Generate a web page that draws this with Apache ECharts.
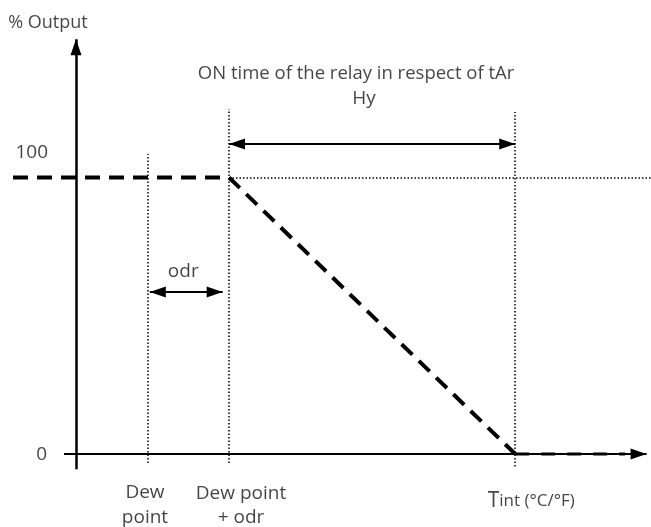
<!DOCTYPE html>
<html>
<head>
<meta charset="utf-8">
<script src="https://cdn.jsdelivr.net/npm/echarts@6/dist/echarts.min.js"></script>
<style>
html,body{margin:0;padding:0;background:#fff;}
#chart{width:651px;height:527px;}
</style>
</head>
<body>
<div id="chart"></div>
<script>
// ---- data (abstract temperature units on x, % output on y) ----
const dewPoint = 8;          // position of the dew point
const odr = 9;               // offset odr
const hy = 31.8;             // band Hy
const outputHigh = 100;
const outputLow = 0;
const yTickValues = [0, 100];
const yTickLabels = ['0', '100'];
const xStart = -7;           // left start of the output curve
const xTailEnd = 61;         // end of the dashed tail
const axisXStart = -1.33, axisXEnd = 63.4;
const axisYStart = -5.5, axisYEnd = 150;
const hyArrowLevel = 112.1;
const odrArrowLevel = 58.6;
const odrArrowFrom = 8.2, odrArrowTo = 16.3;
const dewGuide = [-3.3, 108.5];
const dewOdrGuide = [-3.3, 124.8];
const tintGuide = [-4.5, 123.7];
const texts = {
  yName: '% Output',
  title: 'ON time of the relay in respect of tAr',
  hy: 'Hy',
  odr: 'odr',
  dew: 'Dew\npoint',
  dewOdr: 'Dew point\n+ odr',
  tint: 'Tint (°C/°F)'
};

const dewOdr = dewPoint + odr;
const tint = dewOdr + hy;
const outputLine = [[xStart, outputHigh], [dewOdr, outputHigh], [tint, outputLow]];
const outputTail = [[tint, outputLow], [xTailEnd, outputLow]];

const FONT = 'Open Sans';
const TXT = '#141414';
const FS = 19;

const chart = echarts.init(document.getElementById('chart'), null, {renderer: 'canvas'});

function dotted(from, to) {
  return [{coord: from}, {coord: to}];
}

const tickOffsets = {0: [-29, 1], 100: [-28, -25]};

const labelItems = [
  {value: [0, axisYEnd], text: texts.yName, offset: [-28, -16], fs: 18},
  {value: [(dewOdr + tint) / 2, hyArrowLevel], text: texts.title, offset: [-16, -70], fs: 18.5},
  {value: [(dewOdr + tint) / 2, hyArrowLevel], text: texts.hy, offset: [-8, -45]},
  {value: [(odrArrowFrom + odrArrowTo) / 2, odrArrowLevel], text: texts.odr, offset: [-3, -20]},
  {value: [dewPoint, outputLow], text: texts.dew, offset: [-3, 51], lh: 25},
  {value: [dewOdr, outputLow], text: texts.dewOdr, offset: [12, 52], lh: 24},
  {value: [tint, outputLow], text: texts.tint, offset: [16, 47], rich: true}
].concat(yTickValues.map((v, i) => ({
  value: [0, v], text: yTickLabels[i], offset: tickOffsets[v], align: 'right'
}))).map(d => ({
  value: d.value,
  name: d.text,
  label: {
    offset: d.offset,
    align: d.align || 'center',
    fontSize: d.fs || FS,
    lineHeight: d.lh || 22,
    formatter: d.rich ? '{big|T}{small|int (°C/°F)}' : d.text
  }
}));

chart.setOption({
  animation: false,
  backgroundColor: '#fff',
  grid: {left: 13, right: 0, top: 39.25, bottom: 17.7, containLabel: false, outerBoundsMode: 'none'},
  xAxis: {
    type: 'value', min: xStart, max: 63.89,
    axisLine: {show: false, onZero: true}, axisTick: {show: false},
    splitLine: {show: false}, axisLabel: {show: false}
  },
  yAxis: {
    type: 'value', min: -20, max: 150,
    axisLine: {show: false}, axisTick: {show: false},
    splitLine: {show: false}, axisLabel: {show: false}
  },
  series: [
    {
      type: 'line', name: 'guides', data: [], silent: true,
      markLine: {
        silent: true, symbol: 'none', label: {show: false},
        lineStyle: {color: '#000', width: 1.5, type: [1.5, 2]},
        emphasis: {disabled: true},
        data: [
          dotted([dewPoint, dewGuide[0]], [dewPoint, dewGuide[1]]),
          dotted([dewOdr, dewOdrGuide[0]], [dewOdr, dewOdrGuide[1]]),
          dotted([tint, tintGuide[0]], [tint, tintGuide[1]]),
          dotted([dewOdr, outputHigh], [63.89, outputHigh])
        ]
      }
    },
    {
      type: 'line', name: 'axes', data: [], silent: true,
      markLine: {
        silent: true, label: {show: false}, emphasis: {disabled: true},
        symbol: ['none', 'triangle'], symbolSize: [11, 16], symbolOffset: [[0, 0], [0, 8]],
        lineStyle: {color: '#000', width: 2.5, type: 'solid'},
        data: [
          [{coord: [0, axisYStart]}, {coord: [0, axisYEnd]}],
          [{coord: [axisXStart, 0], lineStyle: {width: 2}}, {coord: [axisXEnd, 0]}]
        ]
      }
    },
    {
      type: 'line', name: 'spans', data: [], silent: true,
      markLine: {
        silent: true, label: {show: false}, emphasis: {disabled: true},
        symbol: ['triangle', 'triangle'], symbolSize: [11, 16], symbolOffset: [[0, 8], [0, 8]],
        lineStyle: {color: '#000', width: 2, type: 'solid'},
        data: [
          [{coord: [dewOdr, hyArrowLevel]}, {coord: [tint, hyArrowLevel]}],
          [{coord: [odrArrowFrom, odrArrowLevel]}, {coord: [odrArrowTo, odrArrowLevel]}]
        ]
      }
    },
    {
      type: 'line', name: 'output', data: outputLine, showSymbol: false, symbol: 'none',
      lineStyle: {color: '#000', width: 4, type: [15, 9], cap: 'butt'}, silent: true, z: 5
    },
    {
      type: 'line', name: 'outputTail', data: outputTail, showSymbol: false, symbol: 'none',
      lineStyle: {color: '#000', width: 3, type: [14, 12], cap: 'butt'}, silent: true, z: 5
    },
    {
      type: 'scatter', name: 'labels', data: labelItems, symbolSize: 0, silent: true, z: 6,
      label: {
        show: true, position: 'inside', fontFamily: FONT, fontSize: FS, color: TXT, align: 'center',
        rich: {
          big: {fontFamily: FONT, fontSize: 21, color: TXT},
          small: {fontFamily: FONT, fontSize: 17, color: TXT}
        }
      }
    }
  ]
});
</script>
</body>
</html>
